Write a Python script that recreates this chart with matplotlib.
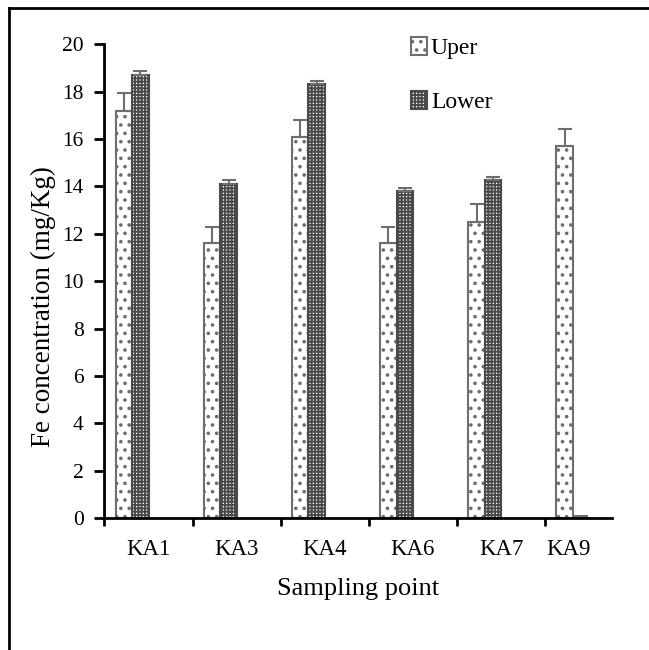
import numpy as np
import matplotlib.pyplot as plt
from matplotlib.lines import Line2D

plt.rcParams['font.family'] = ['Liberation Serif', 'DejaVu Serif']
plt.rcParams['hatch.linewidth'] = 1.4

sites = ['KA1', 'KA3', 'KA4', 'KA6', 'KA7', 'KA9']
uper = [17.2, 11.6, 16.1, 11.6, 12.5, 15.7]
uper_err = [0.75, 0.7, 0.7, 0.7, 0.75, 0.7]
lower = [18.7, 14.1, 18.3, 13.8, 14.25, 0.0]
lower_err = [0.15, 0.15, 0.15, 0.15, 0.15, 0.1]

x = np.arange(len(sites))
w = 0.185  # bar width in category units
edge = '#6e6e6e'

fig = plt.figure(figsize=(6.49, 6.50), dpi=100)
ax = fig.add_axes([0.161, 0.203, 0.782, 0.729])

ax.bar(x - 1.5 * w, uper, w, color='white', edgecolor=edge, hatch='..',
       linewidth=1.5, label='Uper')
ax.bar(x - 0.5 * w, lower, w, color='white', edgecolor='#4a4a4a', hatch='+++++',
       linewidth=1.5, label='Lower')
ax.errorbar(x - 1.5 * w, uper, yerr=[np.zeros(6), uper_err], fmt='none',
            ecolor=edge, elinewidth=1.5, capsize=5, capthick=1.5)
ax.errorbar(x - 0.5 * w, lower, yerr=[np.zeros(6), lower_err], fmt='none',
            ecolor=edge, elinewidth=1.5, capsize=5, capthick=1.5)

ax.set_ylim(0, 20)
ax.set_yticks(np.arange(0, 21, 2))
ax.set_xlim(-0.5, 5.26)
ax.set_xticks(np.arange(-0.5, 5.0, 1.0))
ax.set_xticklabels([])
lab_pos = list(x[:-1]) + [4.77]
ax.set_xticks(lab_pos, minor=True)
ax.set_xticklabels(sites, minor=True, fontsize=16.5)
ax.tick_params(axis='x', which='minor', length=0, pad=15)
ax.tick_params(axis='x', which='major', length=6, width=2, direction='out')
ax.tick_params(axis='y', length=7, width=2, direction='out', labelsize=15.5, pad=8)

for s in ['top', 'right']:
    ax.spines[s].set_visible(False)
for s in ['left', 'bottom']:
    ax.spines[s].set_linewidth(2)

ax.set_ylabel('Fe concentration (mg/Kg)', fontsize=19.5)
ax.yaxis.set_label_coords(-0.095, 0.447)
ax.set_xlabel('Sampling point', fontsize=19, labelpad=13)

ax.legend(loc='upper left', bbox_to_anchor=(0.585, 1.035), frameon=False,
          fontsize=17, handlelength=0.7, handleheight=0.8, handletextpad=0.15,
          labelspacing=1.35, borderaxespad=0)

# outer frame (top and left only)
fig.add_artist(Line2D([9 / 649, 1], [1 - 8 / 650, 1 - 8 / 650], color='black', lw=2,
                      transform=fig.transFigure))
fig.add_artist(Line2D([9 / 649, 9 / 649], [0, 1 - 8 / 650], color='black', lw=2,
                      transform=fig.transFigure))

fig.savefig('out.png', dpi=100)
